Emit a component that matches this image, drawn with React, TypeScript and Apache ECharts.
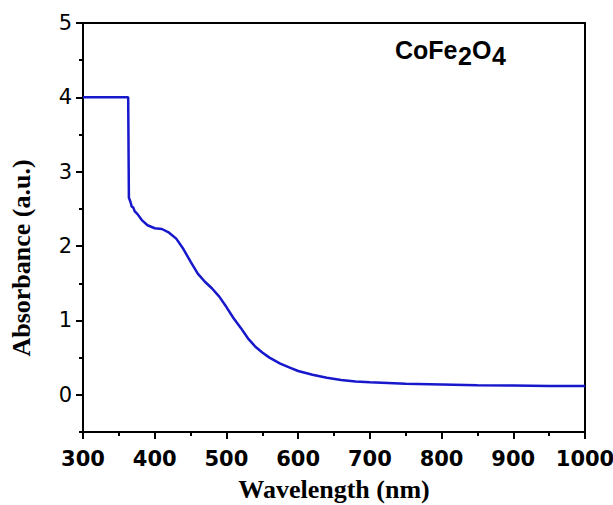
import React, { useEffect, useRef } from "react";
import * as echarts from "echarts";

const wavelength = [300, 363, 364, 366, 368, 370, 372, 376, 382, 390, 400, 410, 420, 430, 440, 450, 460, 470, 480, 490, 500, 510, 520, 530, 540, 550, 560, 575, 590, 600, 620, 640, 660, 680, 700, 750, 800, 850, 900, 950, 1000];
const absorbance = [4.0, 4.0, 2.65, 2.6, 2.53, 2.52, 2.47, 2.43, 2.35, 2.28, 2.24, 2.23, 2.18, 2.1, 1.96, 1.79, 1.63, 1.52, 1.43, 1.32, 1.18, 1.03, 0.9, 0.76, 0.65, 0.57, 0.5, 0.42, 0.36, 0.32, 0.27, 0.23, 0.2, 0.18, 0.17, 0.15, 0.14, 0.13, 0.125, 0.12, 0.12];
const yMajorTicks = [0, 1, 2, 3, 4, 5];
const yMinorTicks = [-0.5, 0.5, 1.5, 2.5, 3.5, 4.5];
const xTitle = "Wavelength (nm)";
const yTitle = "Absorbance (a.u.)";

export default function App() {
  const ref = useRef<HTMLDivElement>(null);
  useEffect(() => {
    if (!ref.current) return;
    const chart = echarts.init(ref.current, null, { renderer: "svg" });
    const sansLabel = { fontFamily: "DejaVu Sans, sans-serif", fontSize: 21, color: "#000" };
    const serifTitle = { fontFamily: "Liberation Serif, Times New Roman, serif", fontWeight: "bold", fontSize: 26 };
    const formulaFont = { fontFamily: "Liberation Sans, Arial, sans-serif", fontWeight: "bold", fontSize: 25, fill: "#000" };
    chart.setOption({
      animation: false,
      backgroundColor: "#fff",
      grid: { left: 83, right: 28, top: 23, bottom: 73, show: true, borderColor: "#000", borderWidth: 2, outerBoundsMode: "none", containLabel: false },
      xAxis: {
        type: "value",
        min: 300,
        max: 1000,
        interval: 100,
        name: xTitle,
        nameLocation: "middle",
        nameGap: 44,
        nameTextStyle: { ...serifTitle, color: "#000" },
        axisLine: { show: true, onZero: false, lineStyle: { color: "#000", width: 2 } },
        axisTick: { show: true, inside: false, length: 7, lineStyle: { color: "#000", width: 2 } },
        minorTick: { show: true, splitNumber: 2, length: 4, lineStyle: { color: "#000", width: 2 } },
        axisLabel: { ...sansLabel, fontWeight: "bold", margin: 16, formatter: (v: number) => String(v) },
        splitLine: { show: false },
      },
      yAxis: [
        {
          type: "value",
          min: -0.5,
          max: 5,
          axisLine: { show: true, onZero: false, lineStyle: { color: "#000", width: 2 } },
          axisTick: { show: true, inside: false, length: 7, customValues: yMajorTicks, lineStyle: { color: "#000", width: 2 } },
          axisLabel: { ...sansLabel, margin: 11, customValues: yMajorTicks, formatter: (v: number) => String(v) },
          splitLine: { show: false },
        },
        {
          type: "value",
          min: -0.5,
          max: 5,
          position: "left",
          axisLine: { show: false, onZero: false },
          axisTick: { show: true, inside: false, length: 4, customValues: yMinorTicks, lineStyle: { color: "#000", width: 2 } },
          axisLabel: { show: false },
          splitLine: { show: false },
        },
      ],
      graphic: [
        { type: "text", x: 21, y: 258, rotation: Math.PI / 2, style: { ...serifTitle, fill: "#000", text: yTitle, align: "center", verticalAlign: "middle" } },
        { type: "text", left: 395, top: 37, style: { ...formulaFont, text: "CoFe" } },
        { type: "text", left: 458, top: 43, style: { ...formulaFont, text: "2" } },
        { type: "text", left: 472, top: 37, style: { ...formulaFont, text: "O" } },
        { type: "text", left: 492, top: 43, style: { ...formulaFont, text: "4" } },
      ],
      series: [
        {
          type: "line",
          data: wavelength.map((w, i) => [w, absorbance[i]]),
          showSymbol: false,
          lineStyle: { color: "#1717cc", width: 2.5 },
          clip: true,
        },
      ],
    });
    return () => chart.dispose();
  }, []);
  return <div ref={ref} style={{ position: "absolute", left: 0, top: 0, width: 613, height: 505 }} />;
}
